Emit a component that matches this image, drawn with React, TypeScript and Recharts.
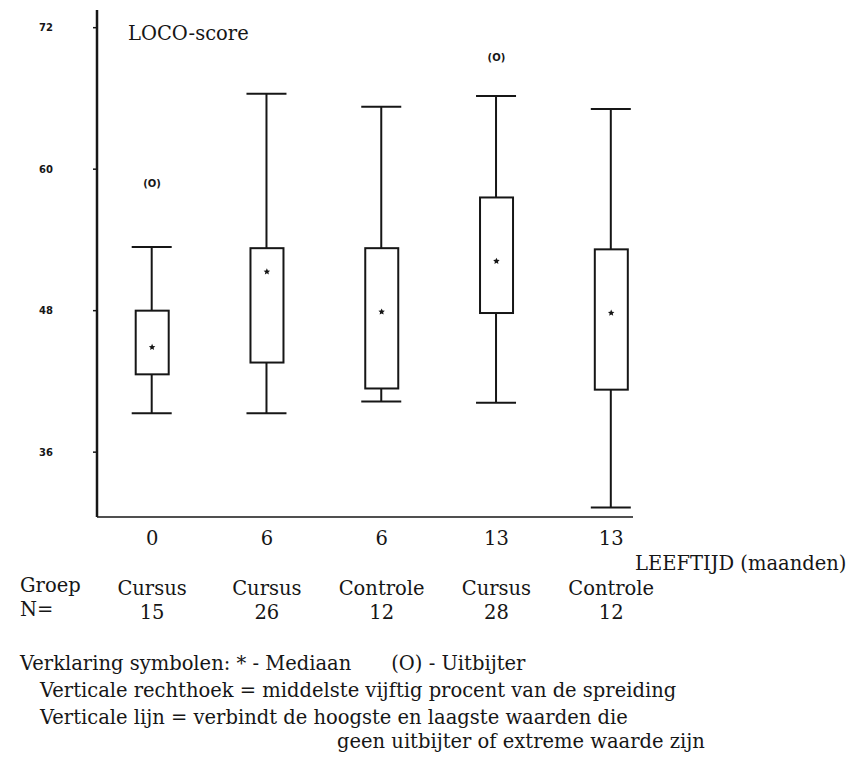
import React from 'react';
import { ComposedChart, Bar, Scatter, XAxis, YAxis } from 'recharts';

// Box plot of LOCO-score per group
const ages = ['0', '6', '6', '13', '13'];
const groups = ['Cursus', 'Cursus', 'Controle', 'Cursus', 'Controle'];
const counts = [15, 26, 12, 28, 12];
const whiskerLow = [39.3, 39.3, 40.3, 40.2, 31.3];
const whiskerHigh = [53.4, 66.4, 65.3, 66.2, 65.1];
const boxLow = [42.6, 43.6, 41.4, 47.8, 41.3];
const boxHigh = [48.0, 53.3, 53.3, 57.6, 53.2];
const medians = [44.9, 51.3, 47.9, 52.2, 47.8];
const outlierGroup = [0, 3];
const outlierValue = [58.8, 69.5];
const yTicks = [36, 48, 60, 72];

const data = ages.map((_, i) => ({
  i,
  whisker: [whiskerLow[i], whiskerHigh[i]],
  box: [boxLow[i], boxHigh[i]],
  median: medians[i],
}));
const outliers = outlierGroup.map((g, k) => ({ i: g, out: outlierValue[k] }));

const INK = '#161616';
const SERIF = '"DejaVu Serif", serif';
const FS = 19.5;

const WhiskerShape = (props: any) => {
  const { x, y, width, height } = props;
  const top = Math.min(y, y + height);
  const bottom = Math.max(y, y + height);
  const cx = x + width / 2;
  return (
    <g stroke={INK} strokeWidth={2}>
      <line x1={cx} x2={cx} y1={top} y2={bottom} />
      <line x1={x} x2={x + width} y1={top} y2={top} />
      <line x1={x} x2={x + width} y1={bottom} y2={bottom} />
    </g>
  );
};

const BoxShape = (props: any) => {
  const { x, y, width, height } = props;
  const top = Math.min(y, y + height);
  return <rect x={x} y={top} width={width} height={Math.abs(height)} fill="#fff" stroke={INK} strokeWidth={2} />;
};

const StarShape = (props: any) => {
  const { cx, cy } = props;
  const pts: string[] = [];
  for (let k = 0; k < 10; k++) {
    const r = k % 2 === 0 ? 3.4 : 1.6;
    const a = -Math.PI / 2 + (k * Math.PI) / 5;
    pts.push(`${cx + r * Math.cos(a)},${cy + r * Math.sin(a)}`);
  }
  return <polygon points={pts.join(' ')} fill={INK} />;
};

const OutlierShape = (props: any) => {
  const { cx, cy } = props;
  return (
    <text x={cx} y={cy} textAnchor="middle" dominantBaseline="central" fontSize={10} fontWeight="bold" fontFamily="DejaVu Sans" fill={INK}>
      (O)
    </text>
  );
};

// age on the axis, group name and N underneath
const GroupTick = (props: any) => {
  const { x, y, payload } = props;
  const i = payload.value;
  return (
    <g fontFamily={SERIF} fontSize={FS} fill={INK} textAnchor="middle">
      <text x={x} y={y + 26}>{ages[i]}</text>
      <text x={x} y={y + 76}>{groups[i]}</text>
      <text x={x} y={y + 100}>{counts[i]}</text>
    </g>
  );
};

const textStyle: React.CSSProperties = {
  position: 'absolute',
  fontFamily: SERIF,
  fontSize: FS,
  lineHeight: '20px',
  color: INK,
  whiteSpace: 'nowrap',
};

export default function App() {
  return (
    <div style={{ position: 'absolute', left: 0, top: 0, width: 849, height: 759, background: '#fff' }}>
      <ComposedChart width={849} height={630} data={data} margin={{ top: 10, right: 216, bottom: 0, left: 0 }}>
        <XAxis
          xAxisId="main"
          dataKey="i"
          type="number"
          domain={[-0.48, 4.19]}
          ticks={[0, 1, 2, 3, 4]}
          allowDataOverflow
          tickLine={false}
          tickSize={0}
          height={113}
          axisLine={{ stroke: INK, strokeWidth: 1.5 }}
          tick={<GroupTick />}
        />
        <XAxis xAxisId="box" dataKey="i" type="number" domain={[-0.48, 4.19]} ticks={[0, 1, 2, 3, 4]} allowDataOverflow hide height={0} />
        <YAxis
          type="number"
          domain={[30.5, 73.5]}
          ticks={yTicks}
          allowDataOverflow
          width={97}
          tickSize={4}
          tickMargin={40}
          axisLine={{ stroke: INK, strokeWidth: 2.5 }}
          tickLine={{ stroke: INK, strokeWidth: 1.5 }}
          tick={{ fill: INK, fontSize: 10, fontWeight: 'bold', fontFamily: 'DejaVu Sans' }}
        />
        <Bar xAxisId="main" dataKey="whisker" barSize={40} shape={<WhiskerShape />} isAnimationActive={false} />
        <Bar xAxisId="box" dataKey="box" barSize={33} shape={<BoxShape />} isAnimationActive={false} />
        <Scatter xAxisId="main" dataKey="median" shape={<StarShape />} isAnimationActive={false} />
        <Scatter xAxisId="main" data={outliers} dataKey="out" shape={<OutlierShape />} isAnimationActive={false} />
      </ComposedChart>

      <div style={{ ...textStyle, left: 128, top: 24 }}>LOCO-score</div>
      <div style={{ ...textStyle, left: 635, top: 554 }}>LEEFTIJD (maanden)</div>
      <div style={{ ...textStyle, left: 20, top: 576 }}>Groep</div>
      <div style={{ ...textStyle, left: 20, top: 600 }}>N=</div>

      <div style={{ ...textStyle, left: 20, top: 654 }}>
        Verklaring symbolen: * - Mediaan<span style={{ marginLeft: 40 }}>(O) - Uitbijter</span>
      </div>
      <div style={{ ...textStyle, left: 40, top: 681 }}>Verticale rechthoek = middelste vijftig procent van de spreiding</div>
      <div style={{ ...textStyle, left: 40, top: 708 }}>Verticale lijn = verbindt de hoogste en laagste waarden die</div>
      <div style={{ ...textStyle, left: 337, top: 732 }}>geen uitbijter of extreme waarde zijn</div>
    </div>
  );
}
